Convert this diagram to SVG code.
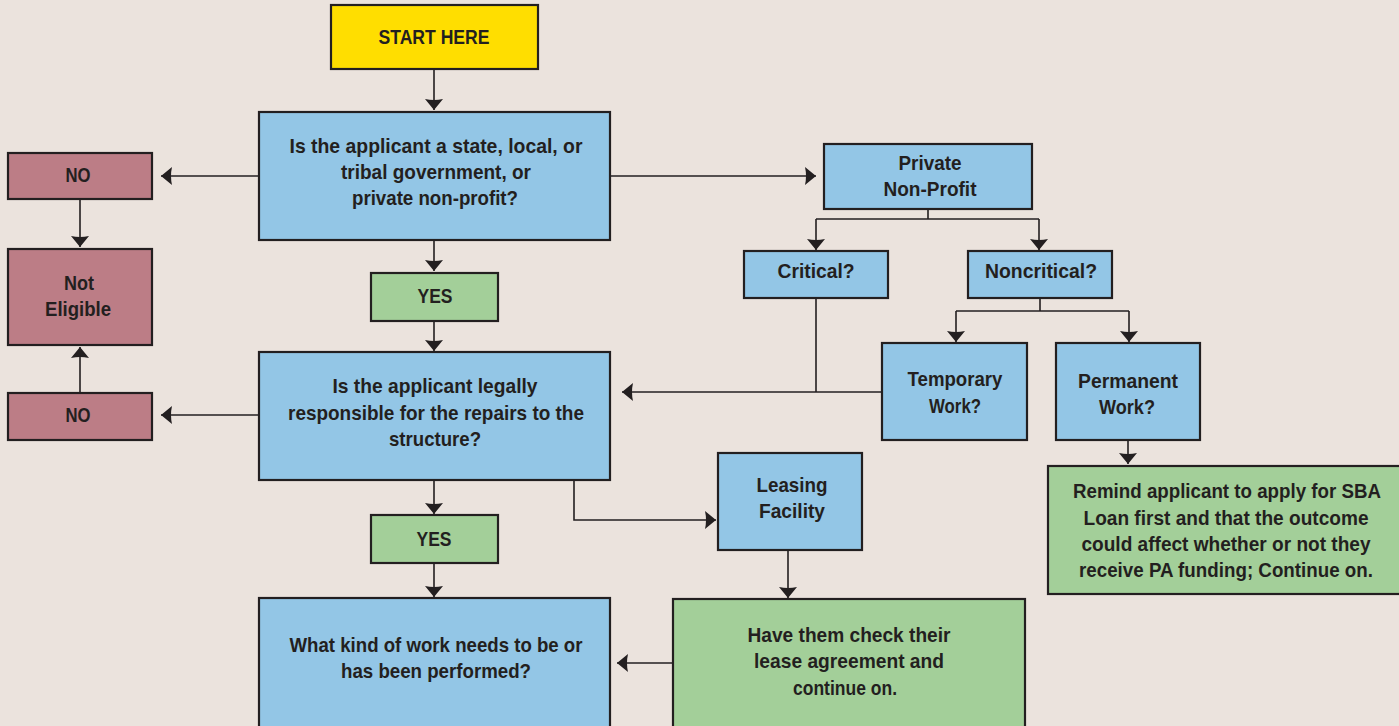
<svg xmlns="http://www.w3.org/2000/svg" width="1399" height="726" viewBox="0 0 1399 726">
<style>
.bg{fill:#EBE3DD}
.box{stroke:#231F20;stroke-width:2.2}
.blue{fill:#93C6E6}
.green{fill:#A3CF99}
.red{fill:#BC7D86}
.yellow{fill:#FFDE00}
text{font-family:"Liberation Sans",Arial,sans-serif;font-weight:bold;font-size:21px;fill:#231F20;text-anchor:middle}
.sm{font-size:19.5px}
.c path{fill:none;stroke:#231F20;stroke-width:1.6}
</style>
<defs>
<marker id="ah" markerUnits="userSpaceOnUse" markerWidth="14" markerHeight="20" viewBox="-12 -10 14 20" refX="0" refY="0" orient="auto">
<path d="M0,0 L-11,-9 Q-9,0 -11,9 Z" fill="#231F20"/>
</marker>
</defs>
<rect class="bg" x="0" y="0" width="1399" height="726"/>

<g class="c" id="connectors">
<path d="M434,70 V110" marker-end="url(#ah)"/>
<path d="M259,176 H161" marker-end="url(#ah)"/>
<path d="M611,176 H816" marker-end="url(#ah)"/>
<path d="M80,200 V247" marker-end="url(#ah)"/>
<path d="M434,240 V271" marker-end="url(#ah)"/>
<path d="M434,321 V351" marker-end="url(#ah)"/>
<path d="M259,415 H161" marker-end="url(#ah)"/>
<path d="M80,392 V347" marker-end="url(#ah)"/>
<path d="M434,480 V514" marker-end="url(#ah)"/>
<path d="M434,563 V597" marker-end="url(#ah)"/>
<path d="M574,480 V520 H716" marker-end="url(#ah)"/>
<path d="M928,209 V219"/>
<path d="M816,219 H1039"/>
<path d="M816,219 V250" marker-end="url(#ah)"/>
<path d="M1039,219 V250" marker-end="url(#ah)"/>
<path d="M1040,298 V311"/>
<path d="M956,311 H1129"/>
<path d="M956,311 V342" marker-end="url(#ah)"/>
<path d="M1129,311 V342" marker-end="url(#ah)"/>
<path d="M816,298 V392"/>
<path d="M882,392 H622" marker-end="url(#ah)"/>
<path d="M1128,440 V464" marker-end="url(#ah)"/>
<path d="M788,550 V598" marker-end="url(#ah)"/>
<path d="M673,663 H617" marker-end="url(#ah)"/>
</g>

<g id="start">
<rect class="box yellow" x="331" y="5" width="207" height="64"/>
<text x="434" y="44" textLength="111" lengthAdjust="spacingAndGlyphs">START HERE</text>
</g>
<g id="q1">
<rect class="box blue" x="259" y="112" width="351" height="128"/>
<text x="436" y="153" textLength="293" lengthAdjust="spacingAndGlyphs">Is the applicant a state, local, or</text>
<text x="436" y="179" textLength="190" lengthAdjust="spacingAndGlyphs">tribal government, or</text>
<text x="435" y="205" textLength="166" lengthAdjust="spacingAndGlyphs">private non-profit?</text>
</g>
<g id="no1">
<rect class="box red" x="8" y="153" width="144" height="46"/>
<text x="78" y="182" textLength="25" lengthAdjust="spacingAndGlyphs">NO</text>
</g>
<g id="noteligible">
<rect class="box red" x="8" y="249" width="144" height="96"/>
<text x="79" y="290" textLength="30" lengthAdjust="spacingAndGlyphs">Not</text>
<text x="78" y="316" textLength="66" lengthAdjust="spacingAndGlyphs">Eligible</text>
</g>
<g id="yes1">
<rect class="box green" x="371" y="273" width="127" height="48"/>
<text x="435" y="303" textLength="35" lengthAdjust="spacingAndGlyphs">YES</text>
</g>
<g id="q2">
<rect class="box blue" x="259" y="352" width="351" height="128"/>
<text x="435" y="393" textLength="205" lengthAdjust="spacingAndGlyphs">Is the applicant legally</text>
<text x="436" y="420" textLength="296" lengthAdjust="spacingAndGlyphs">responsible for the repairs to the</text>
<text x="435" y="446" textLength="92" lengthAdjust="spacingAndGlyphs">structure?</text>
</g>
<g id="no2">
<rect class="box red" x="8" y="393" width="144" height="47"/>
<text x="78" y="422" textLength="25" lengthAdjust="spacingAndGlyphs">NO</text>
</g>
<g id="yes2">
<rect class="box green" x="371" y="515" width="127" height="48"/>
<text x="434" y="546" textLength="35" lengthAdjust="spacingAndGlyphs">YES</text>
</g>
<g id="q3">
<rect class="box blue" x="259" y="598" width="351" height="130"/>
<text x="436" y="652" textLength="293" lengthAdjust="spacingAndGlyphs">What kind of work needs to be or</text>
<text x="436" y="678" textLength="190" lengthAdjust="spacingAndGlyphs">has been performed?</text>
</g>
<g id="privatenonprofit">
<rect class="box blue" x="824" y="144" width="208" height="65"/>
<text x="930" y="170" textLength="63" lengthAdjust="spacingAndGlyphs">Private</text>
<text x="930" y="196" textLength="93" lengthAdjust="spacingAndGlyphs">Non-Profit</text>
</g>
<g id="critical">
<rect class="box blue" x="744" y="251" width="144" height="47"/>
<text x="816" y="278" textLength="77" lengthAdjust="spacingAndGlyphs">Critical?</text>
</g>
<g id="noncritical">
<rect class="box blue" x="968" y="251" width="144" height="47"/>
<text x="1041" y="278" textLength="112" lengthAdjust="spacingAndGlyphs">Noncritical?</text>
</g>
<g id="temporary">
<rect class="box blue" x="882" y="343" width="145" height="97"/>
<text x="955" y="386" textLength="95" lengthAdjust="spacingAndGlyphs">Temporary</text>
<text x="955" y="413" textLength="52" lengthAdjust="spacingAndGlyphs">Work?</text>
</g>
<g id="permanent">
<rect class="box blue" x="1056" y="343" width="144" height="97"/>
<text x="1128" y="388" textLength="100" lengthAdjust="spacingAndGlyphs">Permanent</text>
<text x="1127" y="414" textLength="56" lengthAdjust="spacingAndGlyphs">Work?</text>
</g>
<g id="leasing">
<rect class="box blue" x="718" y="453" width="144" height="97"/>
<text x="792" y="492" textLength="71" lengthAdjust="spacingAndGlyphs">Leasing</text>
<text x="792" y="518" textLength="66" lengthAdjust="spacingAndGlyphs">Facility</text>
</g>
<g id="remind">
<rect class="box green" x="1048" y="466" width="355" height="128"/>
<text class="sm" x="1227" y="498" textLength="308" lengthAdjust="spacingAndGlyphs">Remind applicant to apply for SBA</text>
<text class="sm" x="1226" y="525" textLength="285" lengthAdjust="spacingAndGlyphs">Loan first and that the outcome</text>
<text class="sm" x="1226" y="551" textLength="289" lengthAdjust="spacingAndGlyphs">could affect whether or not they</text>
<text class="sm" x="1226" y="577" textLength="294" lengthAdjust="spacingAndGlyphs">receive PA funding; Continue on.</text>
</g>
<g id="havethem">
<rect class="box green" x="673" y="599" width="352" height="130"/>
<text x="849" y="642" textLength="203" lengthAdjust="spacingAndGlyphs">Have them check their</text>
<text x="849" y="668" textLength="190" lengthAdjust="spacingAndGlyphs">lease agreement and</text>
<text x="845" y="695" textLength="104" lengthAdjust="spacingAndGlyphs">continue on.</text>
</g>
</svg>
